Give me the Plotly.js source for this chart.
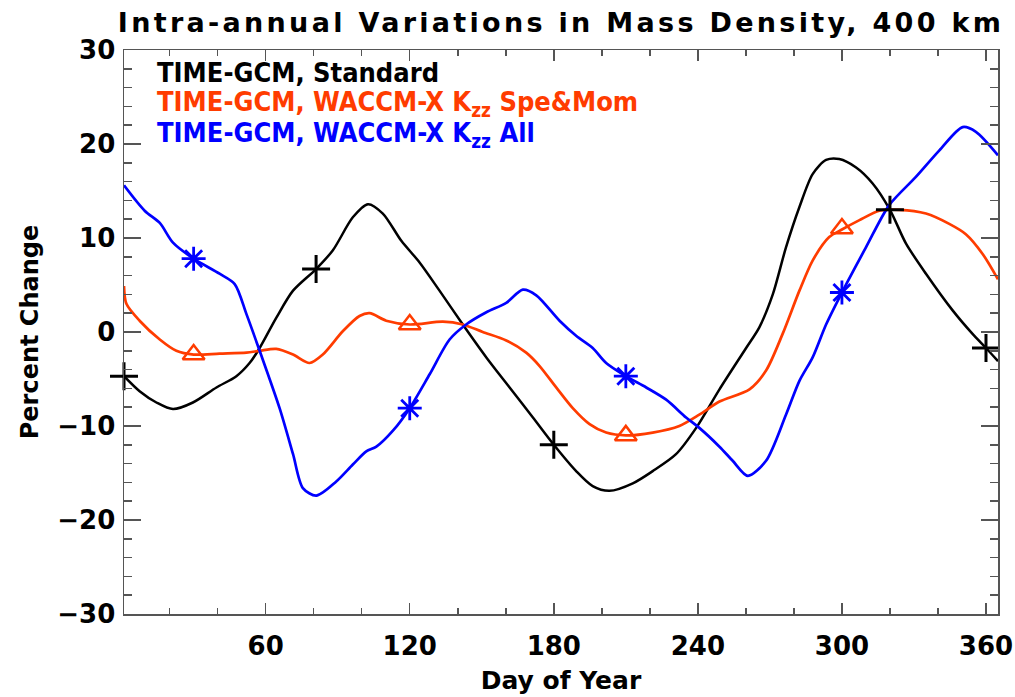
<!DOCTYPE html>
<html>
<head>
<meta charset="utf-8">
<script src="https://cdn.plot.ly/plotly-3.0.1.min.js"></script>
<style>
  html, body { margin: 0; padding: 0; background: #fff; }
  #chart { width: 1015px; height: 697px; }
  #chart .gtitle { letter-spacing: 3.3px; }
</style>
</head>
<body>
<div id="chart"></div>
<script>
// ---- Data ----
const blackDays = [1, 7.5, 14.5, 21.4, 29.7, 39.5, 47.8, 53.3, 57.5, 64.4, 71.4, 81, 88, 96.3, 102.6, 108.8, 116.5, 124.1, 132.4, 142.1, 151.9, 161.6, 171.3, 180, 189.3, 196.2, 203.2, 212.9, 221.2, 230.9, 239.3, 249, 260.1, 265.6, 271.2, 276.7, 282.3, 287.8, 293.4, 298.9, 305.9, 312.8, 320, 326.7, 335, 346.1, 354.4, 360, 365];
const blackVals = [-4.7, -6.3, -7.5, -8.2, -7.5, -5.9, -4.7, -3.3, -1.7, 1.5, 4.4, 6.7, 8.7, 12.2, 13.6, 12.6, 9.7, 7.4, 4.4, 0.8, -2.7, -5.9, -9.1, -12.0, -14.8, -16.4, -16.9, -16.1, -14.8, -13.0, -10.2, -6.1, -1.7, 0.5, 4.0, 9.0, 13.3, 16.8, 18.3, 18.4, 17.5, 15.8, 13.0, 9.4, 6.2, 2.3, -0.2, -1.7, -3.1];

const redDays = [1, 2, 7.5, 15.9, 22.8, 30, 40.8, 52, 57.5, 64.4, 71.4, 78.3, 83.8, 92.2, 99.1, 103.3, 110.2, 120, 133.8, 142.1, 150.4, 160.2, 168.5, 174, 181, 187.9, 194.9, 201.8, 210, 221.2, 232.3, 240.6, 249, 261.5, 268.4, 275.3, 282.3, 287.8, 294.7, 300, 307.3, 315.6, 324, 335, 344.7, 351.6, 358.6, 365];
const redVals = [4.9, 3.0, 1.2, -0.8, -2.0, -2.4, -2.3, -2.2, -2.0, -1.8, -2.4, -3.3, -2.4, 0.1, 1.7, 2.0, 1.2, 0.8, 1.1, 0.8, 0.0, -0.9, -2.2, -3.6, -5.9, -8.1, -9.8, -10.7, -11.0, -10.7, -10.0, -8.8, -7.4, -6.1, -4.1, -0.2, 4.4, 7.6, 10.1, 10.9, 11.9, 12.9, 13.0, 12.6, 11.5, 10.4, 8.3, 5.6];

const blueDays = [1, 9.6, 15.9, 21.4, 30, 40.8, 47.1, 52, 57.5, 65.8, 71.4, 75.5, 81.1, 89.4, 96.3, 101.9, 106.1, 113, 120, 128.3, 136.6, 143.5, 151.9, 160.2, 167.1, 172.7, 182.4, 189.3, 196.2, 201.8, 210, 218.5, 226.8, 235.1, 240.6, 249, 254.5, 260.8, 268.4, 276.7, 282.3, 287.8, 293.4, 300, 310, 319.7, 330.8, 340.5, 350.3, 355.8, 365];
const blueVals = [15.6, 12.9, 11.6, 9.5, 7.8, 6.2, 5.1, 1.9, -2.0, -8.1, -13.0, -16.6, -17.4, -15.9, -14.1, -12.7, -12.2, -10.5, -8.1, -4.5, -0.8, 0.8, 2.1, 3.1, 4.5, 3.9, 1.2, -0.4, -1.7, -3.3, -4.7, -5.9, -7.2, -9.1, -10.2, -12.2, -13.7, -15.3, -13.7, -8.8, -5.2, -2.7, 0.8, 4.2, 9.0, 13.5, 16.5, 19.3, 21.8, 21.3, 18.8];

const blackMarkDays = [1, 81, 180, 320, 360];
const blackMarkVals = [-4.7, 6.7, -12.0, 13.0, -1.7];
const redMarkDays = [30, 120, 210, 300];
const redMarkVals = [-2.4, 0.8, -11.0, 11.0];
const blueMarkDays = [30, 120, 210, 300];
const blueMarkVals = [7.8, -8.1, -4.7, 4.2];

const xTicks = [60, 120, 180, 240, 300, 360];
const yTicks = [-30, -20, -10, 0, 10, 20, 30];

const seriesNames = ['TIME-GCM, Standard', 'TIME-GCM, WACCM-X K<sub>zz</sub> Spe&Mom', 'TIME-GCM, WACCM-X K<sub>zz</sub> All'];
const titleText = 'Intra-annual Variations in Mass Density, 400 km';
const xTitle = 'Day of Year';
const yTitle = 'Percent Change';

// ---- Styles ----
const BLACK = '#000000', RED = '#ff3c00', BLUE = '#0000ff';
const FONT = '"DejaVu Sans", sans-serif';
const CFONT = '"DejaVu Sans Condensed", "DejaVu Sans", sans-serif';
const AXC = '#555555';

const traces = [
  {x: blackDays, y: blackVals, mode: 'lines', line: {color: BLACK, width: 2.5, shape: 'spline', smoothing: 0.8}},
  {x: redDays, y: redVals, mode: 'lines', line: {color: RED, width: 2.7, shape: 'spline', smoothing: 0.8}},
  {x: blueDays, y: blueVals, mode: 'lines', line: {color: BLUE, width: 2.7, shape: 'spline', smoothing: 0.8}},
  {x: blackMarkDays, y: blackMarkVals, mode: 'markers', cliponaxis: false,
   marker: {symbol: 'cross-thin-open', size: 20, color: BLACK, line: {color: BLACK, width: 3}}},
  {x: redMarkDays, y: redMarkVals, mode: 'markers', cliponaxis: false,
   marker: {symbol: 'triangle-up-open', size: 19, color: RED, line: {color: RED, width: 2.5}}},
  {x: blueMarkDays, y: blueMarkVals, mode: 'markers', cliponaxis: false,
   marker: {symbol: 'asterisk-open', size: 20, color: BLUE, line: {color: BLUE, width: 2.8}}}
];

const colors = [BLACK, RED, BLUE];
const legY = [0.960, 0.905, 0.850];
const annotations = seriesNames.map((t, i) => ({
  text: '<b>' + t + '</b>', xref: 'paper', yref: 'paper', x: 0.0355, y: legY[i],
  xanchor: 'left', yanchor: 'middle', showarrow: false,
  font: {family: CFONT, size: 27, color: colors[i]}
}));

const layout = {
  width: 1015, height: 697,
  margin: {l: 124, r: 17, t: 50, b: 83},
  paper_bgcolor: '#ffffff', plot_bgcolor: '#ffffff',
  showlegend: false,
  title: {text: titleText, x: 0.5, xref: 'paper', xanchor: 'center',
          y: 0.968, yref: 'container', yanchor: 'middle',
          font: {family: FONT, size: 27, color: '#000', weight: 'bold'}},
  xaxis: {
    range: [1, 365], tickvals: xTicks, ticktext: xTicks.map(String),
    ticks: 'inside', ticklen: 11, tickwidth: 1.5, tickcolor: AXC,
    showline: true, linecolor: AXC, linewidth: 1.5, mirror: 'ticks',
    showgrid: false, zeroline: false,
    ticklabelstandoff: 8,
    tickfont: {family: FONT, size: 26, color: '#000', weight: 'bold'},
    minor: {dtick: 20, tick0: 0, ticks: 'inside', ticklen: 6, tickwidth: 1.5, tickcolor: AXC, showgrid: false},
    title: {text: '<b>' + xTitle + '</b>', standoff: 12, font: {family: FONT, size: 25, color: '#000'}}
  },
  yaxis: {
    range: [-30, 30], tickvals: yTicks, ticktext: yTicks.map(v => v < 0 ? '\u2212' + Math.abs(v) : String(v)),
    ticks: 'inside', ticklen: 17, tickwidth: 1.5, tickcolor: AXC,
    showline: true, linecolor: AXC, linewidth: 1.5, mirror: 'ticks',
    showgrid: false, zeroline: false,
    ticklabelstandoff: 2,
    tickfont: {family: FONT, size: 26, color: '#000', weight: 'bold'},
    minor: {dtick: 2, tick0: 0, ticks: 'inside', ticklen: 8, tickwidth: 1.5, tickcolor: AXC, showgrid: false},
    title: {text: '<b>' + yTitle + '</b>', standoff: 12, font: {family: FONT, size: 24, color: '#000'}}
  },
  annotations: annotations
};

Plotly.newPlot('chart', traces, layout, {displayModeBar: false, staticPlot: true});
</script>
</body>
</html>
